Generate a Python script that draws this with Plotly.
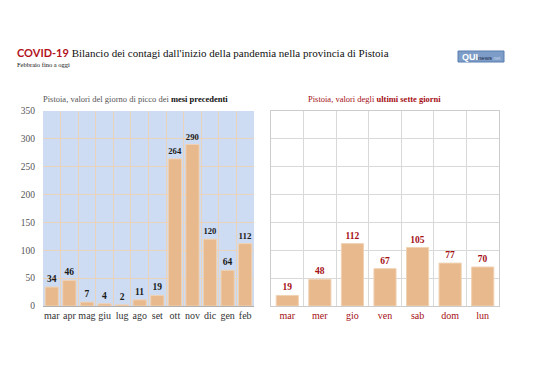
import plotly.graph_objects as go

months = ["mar", "apr", "mag", "giu", "lug", "ago", "set", "ott", "nov", "dic", "gen", "feb"]
month_peaks = [34, 46, 7, 4, 2, 11, 19, 264, 290, 120, 64, 112]

days = ["mar", "mer", "gio", "ven", "sab", "dom", "lun"]
day_values = [19, 48, 112, 67, 105, 77, 70]

y_ticks = [0, 50, 100, 150, 200, 250, 300, 350]

BAR = "#e8b98d"
SERIF = "Liberation Serif"
DARKRED = "#a50f15"

# page body has an 8px default margin; work in reference pixel coords
OFF = 8
W, H = 538 - OFF, 380 - OFF


def px(x):
    return (x - OFF) / W


def py(y):
    return 1 - (y - OFF) / H


fig = go.Figure()
fig.add_trace(go.Bar(
    x=months, y=month_peaks, xaxis="x", yaxis="y",
    marker=dict(color=BAR, line=dict(color="#f0d2b4", width=1)),
    text=[str(v) for v in month_peaks], textposition="outside",
    textfont=dict(family=SERIF, size=9.5, color="#1a1a1a", weight="bold"),
    cliponaxis=False, showlegend=False, width=0.75,
))
fig.add_trace(go.Bar(
    x=days, y=day_values, xaxis="x2", yaxis="y2",
    marker=dict(color=BAR, line=dict(color="#f0d2b4", width=1)),
    text=[str(v) for v in day_values], textposition="outside",
    textfont=dict(family=SERIF, size=9.5, color=DARKRED, weight="bold"),
    cliponaxis=False, showlegend=False, width=0.68,
))

fig.update_layout(
    width=W, height=H,
    margin=dict(l=0, r=0, t=0, b=0),
    paper_bgcolor="white",
    plot_bgcolor="white",
    xaxis=dict(domain=[px(43), px(254)], anchor="y", type="category",
               tickson="boundaries", showgrid=True, gridcolor="#ead3bb", gridwidth=1,
               ticks="", showline=True, linecolor="#b0b0b0", tickangle=0,
               automargin=False,
               tickfont=dict(family=SERIF, size=10, color="#333333")),
    yaxis=dict(domain=[py(306), py(111)], anchor="x", range=[0, 350],
               tickvals=y_ticks, showgrid=True, gridcolor="#ead3bb", gridwidth=1,
               zeroline=False, ticks="", ticklabelstandoff=7, automargin=False,
               tickfont=dict(family=SERIF, size=9.5, color="#555555")),
    xaxis2=dict(domain=[px(271), px(499)], anchor="y2", type="category",
                tickson="boundaries", showgrid=True, gridcolor="#d9d9d9", gridwidth=1,
                ticks="", showline=True, linecolor="#cccccc", mirror=True, tickangle=0,
                automargin=False,
                tickfont=dict(family=SERIF, size=10, color=DARKRED)),
    yaxis2=dict(domain=[py(306), py(111)], anchor="x2", range=[0, 350],
                tickvals=y_ticks, showgrid=True, gridcolor="#d9d9d9", gridwidth=1,
                zeroline=False, showticklabels=False, showline=True,
                linecolor="#cccccc", mirror=True, automargin=False),
    shapes=[
        dict(type="rect", xref="x domain", yref="y domain", x0=0, x1=1, y0=0, y1=1,
             fillcolor="#cddcf2", line=dict(width=0), layer="below"),
        dict(type="rect", xref="paper", yref="paper",
             x0=px(458), x1=px(504), y0=py(62), y1=py(51),
             fillcolor="#7d9cc7", line=dict(color="#5a7fb0", width=1)),
    ],
    annotations=[
        dict(x=px(15), y=py(52), xref="paper", yref="paper", xanchor="left", yanchor="middle",
             showarrow=False,
             text="<b><span style='font-family:Lato;color:#b3121b'>COVID-19</span></b> Bilancio dei contagi dall'inizio della pandemia nella provincia di Pistoia",
             font=dict(family=SERIF, size=11, color="#111111")),
        dict(x=px(15), y=py(65), xref="paper", yref="paper", xanchor="left", yanchor="middle",
             showarrow=False, text="Febbraio fino a oggi",
             font=dict(family=SERIF, size=6.5, color="#111111")),
        dict(x=px(135), y=py(99), xref="paper", yref="paper", xanchor="center", yanchor="middle",
             showarrow=False, text="Pistoia, valori del giorno di picco dei <b style='color:#111111'>mesi precedenti</b>",
             font=dict(family=SERIF, size=8.5, color="#555555")),
        dict(x=px(374), y=py(99), xref="paper", yref="paper", xanchor="center", yanchor="middle",
             showarrow=False, text="Pistoia, valori degli <b>ultimi sette giorni</b>",
             font=dict(family=SERIF, size=8.5, color=DARKRED)),
        dict(x=px(481), y=py(56.5), xref="paper", yref="paper", xanchor="center", yanchor="middle",
             showarrow=False,
             text="<b>QUI</b><span style='font-size:6px;color:#1a2a4a'>news</span><span style='font-size:5px;color:#c9d6ea'>.net</span>",
             font=dict(family="Liberation Sans", size=9, color="white")),
    ],
)

fig.write_html("out.html")
